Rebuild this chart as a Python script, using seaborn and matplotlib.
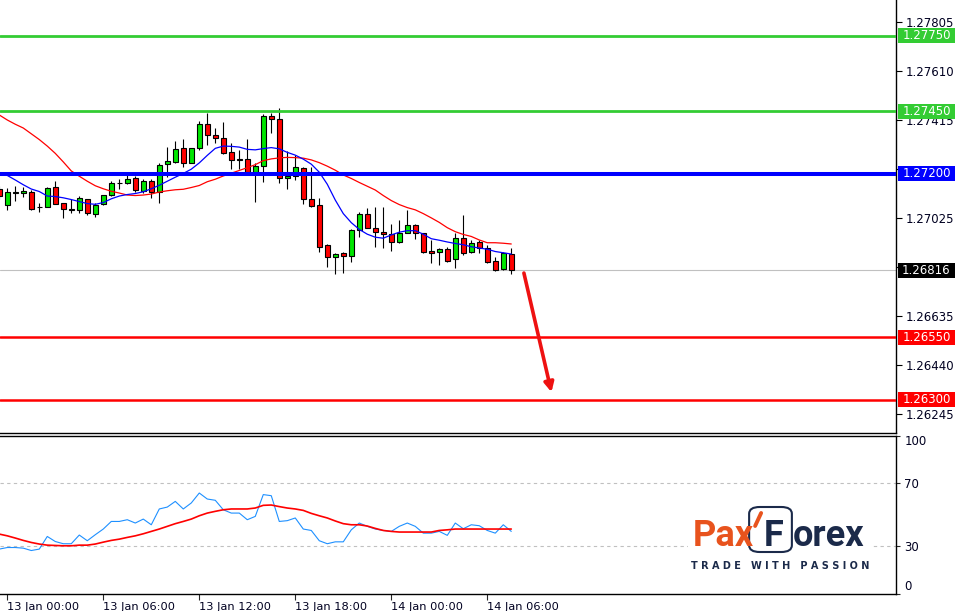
import numpy as np
import pandas as pd
import matplotlib
matplotlib.use("Agg")
import matplotlib.pyplot as plt
import matplotlib.transforms as mtransforms
from matplotlib.patches import Rectangle, FancyBboxPatch, FancyArrowPatch
from matplotlib.lines import Line2D
import seaborn as sns

# GBPUSD M30, first bar = 12 Jan 23:30
opens = [1.27140, 1.27078, 1.27126, 1.27126, 1.27130, 1.27069, 1.27070, 1.27147, 1.27083, 1.27057,
         1.27057, 1.27099, 1.27041, 1.27080, 1.27115, 1.27163, 1.27163, 1.27183, 1.27132, 1.27172,
         1.27127, 1.27239, 1.27249, 1.27302, 1.27245, 1.27302, 1.27399, 1.27355, 1.27342, 1.27287,
         1.27258, 1.27259, 1.27209, 1.27233, 1.27431, 1.27419, 1.27183, 1.27192, 1.27223, 1.27100,
         1.27076, 1.26917, 1.26868, 1.26886, 1.26874, 1.26977, 1.27039, 1.26983, 1.26969, 1.26961,
         1.26930, 1.26966, 1.26997, 1.26964, 1.26893, 1.26888, 1.26900, 1.26860, 1.26944, 1.26890,
         1.26928, 1.26904, 1.26853, 1.26820, 1.26881]
highs = [1.27152, 1.27144, 1.27152, 1.27148, 1.27136, 1.27084, 1.27149, 1.27173, 1.27086, 1.27099,
         1.27112, 1.27101, 1.27086, 1.27116, 1.27173, 1.27179, 1.27196, 1.27192, 1.27179, 1.27179,
         1.27243, 1.27309, 1.27333, 1.27341, 1.27303, 1.27412, 1.27444, 1.27382, 1.27407, 1.27322,
         1.27296, 1.27339, 1.27245, 1.27439, 1.27444, 1.27462, 1.27293, 1.27276, 1.27229, 1.27229,
         1.27103, 1.26919, 1.26884, 1.26890, 1.26980, 1.27050, 1.27063, 1.27070, 1.27070, 1.27001,
         1.27017, 1.27057, 1.27001, 1.26966, 1.26937, 1.26904, 1.26910, 1.26964, 1.27037, 1.26937,
         1.26937, 1.26917, 1.26870, 1.26890, 1.26904]
lows = [1.27100, 1.27057, 1.27092, 1.27108, 1.27057, 1.27050, 1.27067, 1.27079, 1.27023, 1.27043,
        1.27046, 1.27038, 1.27030, 1.27075, 1.27112, 1.27139, 1.27160, 1.27129, 1.27125, 1.27105,
        1.27086, 1.27189, 1.27243, 1.27229, 1.27243, 1.27296, 1.27315, 1.27322, 1.27278, 1.27219,
        1.27219, 1.27205, 1.27090, 1.27169, 1.27362, 1.27163, 1.27139, 1.27176, 1.27080, 1.27070,
        1.26890, 1.26831, 1.26802, 1.26804, 1.26851, 1.26948, 1.26983, 1.26910, 1.26904, 1.26894,
        1.26924, 1.26964, 1.26940, 1.26884, 1.26844, 1.26837, 1.26851, 1.26824, 1.26877, 1.26884,
        1.26886, 1.26844, 1.26815, 1.26818, 1.26802]
closes = [1.27112, 1.27128, 1.27128, 1.27132, 1.27062, 1.27070, 1.27143, 1.27080, 1.27059, 1.27062,
          1.27103, 1.27043, 1.27075, 1.27115, 1.27163, 1.27164, 1.27179, 1.27136, 1.27172, 1.27127,
          1.27236, 1.27252, 1.27298, 1.27243, 1.27302, 1.27399, 1.27354, 1.27342, 1.27285, 1.27256,
          1.27257, 1.27209, 1.27230, 1.27431, 1.27418, 1.27183, 1.27192, 1.27227, 1.27099, 1.27074,
          1.26910, 1.26868, 1.26881, 1.26874, 1.26977, 1.27039, 1.26986, 1.26968, 1.26960, 1.26930,
          1.26964, 1.26997, 1.26964, 1.26890, 1.26884, 1.26900, 1.26855, 1.26944, 1.26886, 1.26926,
          1.26904, 1.26851, 1.26818, 1.26884, 1.26816]

# moving averages
ma_fast = [1.27206, 1.27194, 1.27176, 1.27157, 1.27140, 1.27130, 1.27112, 1.27110, 1.27105, 1.27098,
           1.27090, 1.27082, 1.27079, 1.27086, 1.27101, 1.27112, 1.27118, 1.27122, 1.27129, 1.27141,
           1.27155, 1.27171, 1.27187, 1.27202, 1.27219, 1.27244, 1.27274, 1.27302, 1.27311, 1.27310,
           1.27307, 1.27298, 1.27296, 1.27301, 1.27305, 1.27300, 1.27286, 1.27275, 1.27259, 1.27239,
           1.27207, 1.27159, 1.27096, 1.27042, 1.27006, 1.26979, 1.26960, 1.26948, 1.26944, 1.26957,
           1.26968, 1.26974, 1.26974, 1.26960, 1.26942, 1.26936, 1.26929, 1.26923, 1.26918, 1.26910,
           1.26905, 1.26900, 1.26891, 1.26886, 1.26881]
ma_slow = [1.27435, 1.27415, 1.27398, 1.27383, 1.27360, 1.27337, 1.27311, 1.27282, 1.27248, 1.27212,
           1.27191, 1.27171, 1.27153, 1.27141, 1.27131, 1.27124, 1.27116, 1.27114, 1.27116, 1.27120,
           1.27128, 1.27133, 1.27137, 1.27139, 1.27146, 1.27154, 1.27169, 1.27179, 1.27192, 1.27203,
           1.27214, 1.27225, 1.27237, 1.27253, 1.27260, 1.27264, 1.27266, 1.27265, 1.27263, 1.27256,
           1.27245, 1.27231, 1.27215, 1.27196, 1.27182, 1.27166, 1.27151, 1.27136, 1.27114, 1.27094,
           1.27078, 1.27066, 1.27057, 1.27042, 1.27025, 1.27007, 1.26986, 1.26970, 1.26959, 1.26951,
           1.26937, 1.26926, 1.26926, 1.26924, 1.26921]

# stochastic %K / %D
stoch_k = [28.1, 29.1, 29.1, 28.7, 27.2, 28.1, 36.1, 32.9, 31.5, 31.5,
           37.0, 33.4, 37.2, 40.8, 45.6, 45.6, 46.7, 44.6, 47.1, 43.5,
           53.5, 54.7, 58.3, 53.5, 57.3, 63.6, 59.8, 59.0, 53.0, 50.9,
           50.9, 46.7, 48.8, 62.6, 61.9, 45.6, 46.1, 47.8, 40.8, 39.9,
           33.4, 31.5, 32.7, 32.7, 40.3, 44.6, 42.5, 40.8, 39.9, 39.3,
           42.5, 44.6, 42.5, 38.2, 38.2, 39.3, 36.8, 44.6, 41.0, 43.5,
           42.9, 39.9, 38.2, 43.5, 39.3]
stoch_d = [37.6, 36.5, 35.1, 33.6, 32.3, 31.3, 30.6, 30.4, 30.2, 30.2,
           30.6, 30.6, 31.3, 32.5, 33.6, 34.4, 35.5, 36.5, 37.8, 39.3,
           40.8, 42.5, 44.2, 45.6, 47.1, 49.2, 50.9, 52.0, 53.0, 53.5,
           53.5, 53.5, 54.1, 55.8, 56.0, 55.0, 54.1, 53.5, 52.6, 50.7,
           49.2, 47.8, 45.9, 44.2, 43.5, 43.5, 42.7, 41.2, 39.9, 39.3,
           38.9, 38.9, 38.9, 38.9, 38.9, 39.9, 40.3, 40.8, 40.8, 40.8,
           40.8, 40.8, 40.8, 40.8, 40.8]

time_bars = [1, 13, 25, 37, 49, 61]
time_labels = ["13 Jan 00:00", "13 Jan 06:00", "13 Jan 12:00",
               "13 Jan 18:00", "14 Jan 00:00", "14 Jan 06:00"]
price_ticks = [1.27805, 1.27610, 1.27415, 1.27220, 1.27025, 1.26830, 1.26635, 1.26440, 1.26245]
# 1.27220 and 1.26830 sit behind the level boxes on the scale
price_tick_labels = ["1.27805", "1.27610", "1.27415", "", "1.27025", "", "1.26635", "1.26440", "1.26245"]
resistance = [1.27750, 1.27450]
pivot = 1.27200
support = [1.26550, 1.26300]
last_price = 1.26816
stoch_levels = [30, 70]

df = pd.DataFrame({"bar": np.arange(len(opens)), "open": opens, "high": highs,
                   "low": lows, "close": closes, "ma_fast": ma_fast, "ma_slow": ma_slow,
                   "k": stoch_k, "d": stoch_d})

sns.set_theme(style="white")
plt.rcParams["font.family"] = ["DejaVu Sans"]

W, H = 960, 611
fig = plt.figure(figsize=(W / 100, H / 100), dpi=100)
ax = fig.add_axes([0, 1 - 433 / H, 896 / W, 433 / H])
ax2 = fig.add_axes([0, 1 - 593.5 / H, 896 / W, 158 / H])

# candles
up = df["close"] >= df["open"]
ax.vlines(df["bar"], df["low"], df["high"], color="black", lw=0.8, zorder=3)
body = (df["close"] - df["open"]).abs().clip(lower=0.000004)
ax.bar(df["bar"], body, bottom=df[["open", "close"]].min(axis=1), width=0.62,
       color=np.where(up, "#00e600", "#ff0000"), edgecolor="black", linewidth=0.8, zorder=4)

sns.lineplot(data=df, x="bar", y="ma_slow", color="#ff0000", lw=0.9, ax=ax, zorder=5)
sns.lineplot(data=df, x="bar", y="ma_fast", color="#0000ff", lw=0.9, ax=ax, zorder=5)

# levels
for lv in resistance:
    ax.axhline(lv, color="#33cc33", lw=2.0, zorder=6)
ax.axhline(pivot, color="#0000ff", lw=2.9, zorder=6)
for lv in support:
    ax.axhline(lv, color="#ff0000", lw=1.8, zorder=6)
ax.axhline(last_price, color="#c0c0c0", lw=0.8, zorder=2)

n = len(df)
ax.add_patch(FancyArrowPatch((n + 0.5, last_price), (n + 4.1, support[1] + 0.0002),
                             arrowstyle="-|>,head_length=5.5,head_width=2.8",
                             color="#ee1111", lw=2.6, zorder=7))

ax.set_xlim(0.09, 112.09)
ax.set_ylim(1.26168, 1.27893)
ax.set_xlabel("")
ax.set_ylabel("")
ax.set_xticks([])
ax.yaxis.tick_right()
ax.set_yticks(price_ticks, labels=price_tick_labels)
ax.tick_params(axis="y", direction="out", length=4, width=0.8, labelsize=8.5,
               pad=3, colors="black", labelcolor="#000020", right=True)
for s in ["left", "top"]:
    ax.spines[s].set_visible(False)
for s in ["right", "bottom"]:
    ax.spines[s].set_color("black")
    ax.spines[s].set_linewidth(1)

# price boxes on the scale
trans = mtransforms.blended_transform_factory(ax.transAxes, ax.transData)
box_h = 15 * (1.27893 - 1.26168) / 433
for price, fc in [(resistance[0], "#33cc33"), (resistance[1], "#33cc33"), (pivot, "#0000ff"),
                  (last_price, "#000000"), (support[0], "#ff0000"), (support[1], "#ff0000")]:
    ax.add_patch(Rectangle((1.0022, price - box_h / 2), 0.0636, box_h, transform=trans,
                           facecolor=fc, edgecolor="none", clip_on=False, zorder=9))
    ax.text(1.034, price, f"{price:.5f}", transform=trans, ha="center", va="center",
            fontsize=8.5, color="white", zorder=10, clip_on=False)

# stochastic panel
sns.lineplot(data=df, x="bar", y="k", color="#1e90ff", lw=0.8, ax=ax2, zorder=3)
sns.lineplot(data=df, x="bar", y="d", color="#ff0000", lw=1.2, ax=ax2, zorder=4)
for lv in stoch_levels:
    ax2.axhline(lv, color="#c0c0c0", lw=0.8, ls=(0, (3, 3)), zorder=1)
ax2.set_xlim(0.09, 112.09)
ax2.set_ylim(0, 100)
ax2.set_xlabel("")
ax2.set_ylabel("")
ax2.yaxis.tick_right()
ax2.set_yticks([0, 30, 70, 100], labels=["0", "30", "70", "100"])
for lbl in ax2.get_yticklabels():
    if lbl.get_text() == "100":
        lbl.set_va("top")
    elif lbl.get_text() == "0":
        lbl.set_va("bottom")
ax2.tick_params(axis="y", direction="out", length=3, width=0.8, labelsize=8.5,
                pad=3, labelcolor="#000020", right=True)
ax2.set_xticks(time_bars, labels=time_labels)
for lbl in ax2.get_xticklabels():
    lbl.set_ha("left")
ax2.tick_params(axis="x", direction="out", length=4, width=0.8, labelsize=8.2,
                pad=2, labelcolor="#000020", bottom=True)
ax2.spines["left"].set_visible(False)
for s in ["right", "bottom", "top"]:
    ax2.spines[s].set_color("black")
    ax2.spines[s].set_linewidth(1)

# PaxForex logo
fig.patches.append(Rectangle((688 / W, 1 - 578 / H), 184 / W, 76 / H, transform=fig.transFigure,
                             facecolor="white", edgecolor="none", zorder=1))
renderer = fig.canvas.get_renderer()
navy = "#1b2a4a"
orange = "#e8531d"
base = 1 - 546 / H
logo_font = dict(family="Roboto", weight="bold", fontsize=26, va="baseline", ha="left", zorder=5)
t_pax = fig.text(693 / W, base, "Pax", color=orange, **logo_font)
pax_r = t_pax.get_window_extent(renderer).x1
box_l = pax_r - 5
t_f = fig.text((box_l + 15) / W, base, "F", color=navy, **logo_font)
f_r = t_f.get_window_extent(renderer).x1
box_r = f_r + 8
fig.patches.append(FancyBboxPatch((box_l / W, 1 - 552 / H), (box_r - box_l) / W, 45 / H,
                                  boxstyle="round,pad=0,rounding_size=0.011",
                                  transform=fig.transFigure, facecolor="none",
                                  edgecolor=navy, lw=1.5, zorder=4))
fig.lines.append(Line2D([(box_l + 6) / W, (box_l + 12) / W], [1 - 526 / H, 1 - 513 / H],
                        transform=fig.transFigure, color=orange, lw=2.8, zorder=6))
fig.text((box_r + 1) / W, base, "orex", color=navy, **logo_font)
fig.text(780 / W, 1 - 566 / H, "T R A D E   W I T H   P A S S I O N", color=navy,
         fontsize=7, weight="bold", ha="center", va="center", zorder=5)

fig.savefig("out.png", dpi=100)
